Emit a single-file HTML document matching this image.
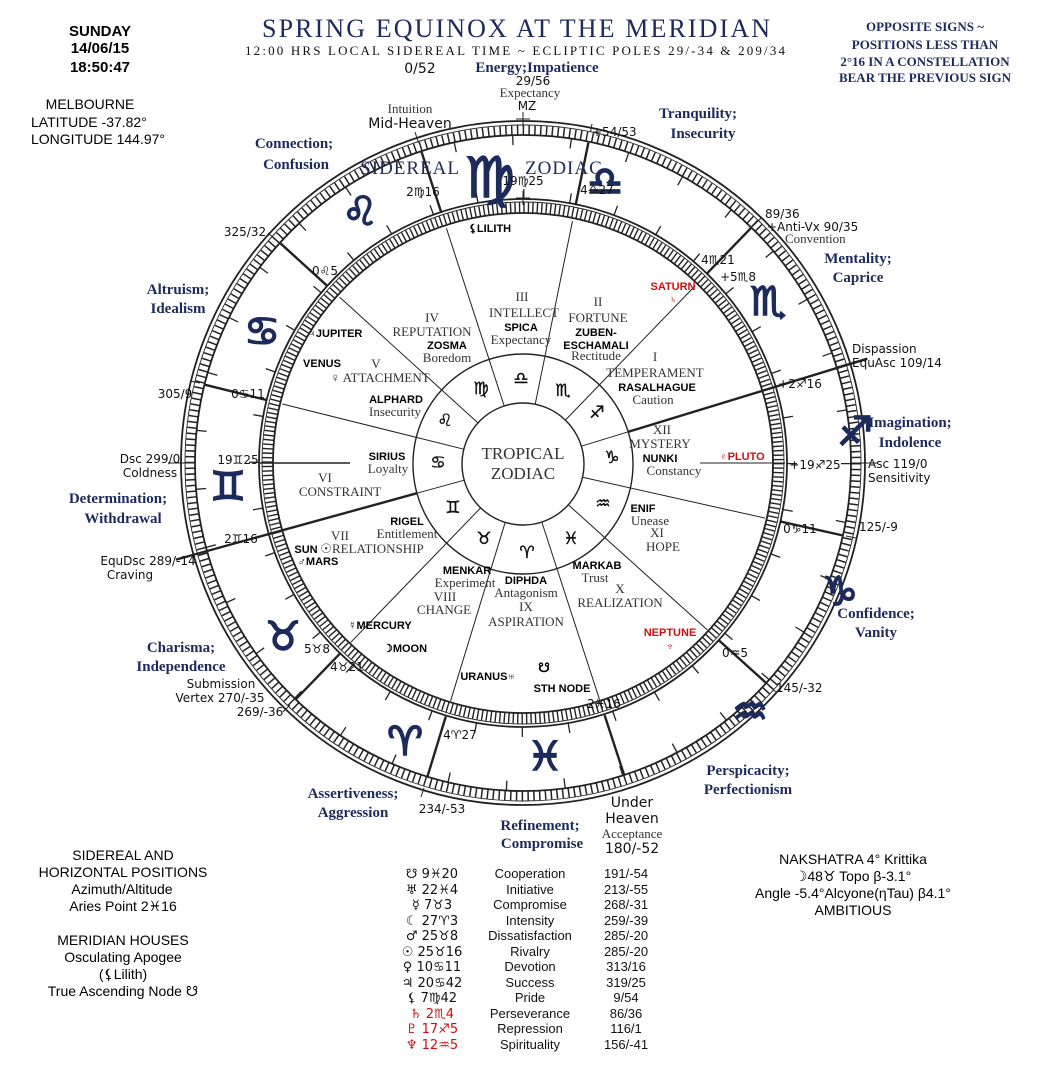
<!DOCTYPE html>
<html><head><meta charset="utf-8"><style>
html,body{margin:0;padding:0;background:#fff;}
svg{display:block;}
.s{font-family:"Liberation Sans","DejaVu Sans",sans-serif;}
.f{font-family:"Liberation Serif","DejaVu Serif",serif;}
.g{font-family:"DejaVu Sans",sans-serif;}
.nv{fill:#1c2a5c;font-family:"Liberation Serif",serif;font-weight:bold;font-size:15px;}
.b{font-family:"Liberation Sans",sans-serif;font-weight:bold;font-size:11px;fill:#000;}
.h{font-family:"Liberation Serif",serif;font-size:13px;fill:#333;}
.d{font-family:"DejaVu Sans",sans-serif;font-size:12px;fill:#111;}
.r{fill:#d01010;}
</style></head><body>
<svg width="1052" height="1066" viewBox="0 0 1052 1066" xmlns="http://www.w3.org/2000/svg">
<rect width="1052" height="1066" fill="#fff"/>
<g fill="none" stroke="#222">
<circle cx="523" cy="463" r="342" stroke-width="1.8"/>
<circle cx="523" cy="463" r="338" stroke-width="0.9"/>
<circle cx="523" cy="463" r="328" stroke-width="1.8"/>
<circle cx="523" cy="463" r="333" stroke-width="9" stroke-dasharray="1.5 4.31" stroke="#222"/>
<circle cx="523" cy="463" r="323" stroke-width="10" stroke-dasharray="1.3 56.82"/>
<circle cx="523" cy="463" r="264" stroke-width="1.8"/>
<circle cx="523" cy="463" r="261" stroke-width="0.9"/>
<circle cx="523" cy="463" r="250" stroke-width="1.8"/>
<circle cx="523" cy="463" r="255.5" stroke-width="10" stroke-dasharray="1.4 3.06" stroke="#222"/>
<circle cx="523" cy="463" r="269" stroke-width="10" stroke-dasharray="1.3 45.65"/>
<circle cx="523" cy="464" r="110" stroke-width="1.4"/>
<circle cx="523" cy="464" r="61" stroke-width="1.4"/>
<g stroke-width="1">
<line x1="504.2" y1="406" x2="446.4" y2="228.2"/>
<line x1="535.2" y1="404.2" x2="572.5" y2="221"/>
<line x1="565.4" y1="420.1" x2="695.3" y2="285.6"/>
<line x1="582.5" y1="477.3" x2="765" y2="518.1"/>
<line x1="568.3" y1="504.8" x2="707.3" y2="629.9"/>
<line x1="541.8" y1="522" x2="599.6" y2="699.8"/>
<line x1="505.2" y1="522.3" x2="450.5" y2="701.2"/>
<line x1="480.6" y1="507.9" x2="350.7" y2="642.4"/>
<line x1="463.8" y1="449.2" x2="282.4" y2="404"/>
<line x1="477.9" y1="422.9" x2="339.6" y2="297.1"/>
<line x1="581.3" y1="446.2" x2="628.2" y2="431.8"/>
<line x1="464.2" y1="480.2" x2="417" y2="493.2"/>
<line x1="260" y1="463" x2="350" y2="463" stroke-width="1.5"/>
<line x1="700" y1="463" x2="785" y2="463"/>
</g>
<g stroke-width="2.4">
<line x1="441.4" y1="212.9" x2="421.6" y2="152.1"/>
<line x1="575.6" y1="205.3" x2="588.4" y2="142.6"/>
<line x1="706.4" y1="274.1" x2="750.9" y2="228.1"/>
<line x1="780.6" y1="521.6" x2="843.1" y2="535.5"/>
<line x1="719.2" y1="640.6" x2="766.7" y2="683.5"/>
<line x1="604.6" y1="715.1" x2="624.4" y2="775.9"/>
<line x1="445.8" y1="716.5" x2="427.1" y2="777.7"/>
<line x1="339.6" y1="653.9" x2="295.1" y2="699.9"/>
<line x1="266.8" y1="400.1" x2="204.7" y2="384.7"/>
<line x1="327.7" y1="286.3" x2="280.4" y2="243.3"/>
<line x1="628.2" y1="431.8" x2="867.3" y2="358.7"/>
<line x1="417" y1="493.2" x2="175.9" y2="559.6"/>
</g>
<g stroke-width="1">
<line x1="418.5" y1="142.6" x2="415" y2="132"/><line x1="590.5" y1="132" x2="592" y2="124"/>
<line x1="753" y1="226" x2="762" y2="217"/><line x1="846" y1="536" x2="856" y2="538"/>
<line x1="769" y1="686" x2="776" y2="692"/><line x1="424" y1="788" x2="421" y2="797"/>
<line x1="290" y1="705" x2="283" y2="712"/><line x1="200" y1="383" x2="190" y2="381"/>
<line x1="276" y1="240" x2="268" y2="233"/>
<line x1="168" y1="463" x2="196" y2="463"/><line x1="850" y1="463" x2="878" y2="463"/>
<line x1="523" y1="112" x2="523" y2="126"/><line x1="516" y1="119" x2="530" y2="119"/>
<line x1="523" y1="191" x2="523" y2="205"/><line x1="516" y1="198" x2="530" y2="198"/>
</g>
</g>

<g class="g" fill="#1c2a5c" stroke="#1c2a5c" stroke-width="1.6" text-anchor="middle" font-size="40">
<text x="490" y="197" font-size="56">♍</text>
<text x="605" y="195">♎</text>
<text x="768" y="315">♏</text>
<text x="855" y="445">♐</text>
<text x="840" y="605">♑</text>
<text x="750" y="725">♒</text>
<text x="545" y="770">♓</text>
<text x="405" y="755">♈</text>
<text x="283" y="650">♉</text>
<text x="228" y="500">♊</text>
<text x="262" y="345">♋</text>
<text x="360" y="225">♌</text>
</g>
<text x="460" y="174" text-anchor="end" class="f" font-size="19" fill="#1c2a5c" letter-spacing="1">SIDEREAL</text>
<text x="525" y="174" class="f" font-size="19" fill="#1c2a5c" letter-spacing="1">ZODIAC</text>

<g class="g" fill="#111" stroke="#111" stroke-width="0.4" text-anchor="middle" font-size="17">
<text x="521" y="384">♎</text><text x="563" y="396">♏</text><text x="597" y="418">♐</text>
<text x="612" y="463">♑</text><text x="603" y="509">♒</text><text x="571" y="544">♓</text>
<text x="527" y="558">♈</text><text x="484" y="544">♉</text><text x="453" y="513">♊</text>
<text x="438" y="468">♋</text><text x="445" y="426">♌</text><text x="481" y="394">♍</text>
</g>
<text x="523" y="459" text-anchor="middle" class="f" font-size="17" fill="#333">TROPICAL</text>
<text x="523" y="479" text-anchor="middle" class="f" font-size="17" fill="#333">ZODIAC</text>

<text x="262" y="37" textLength="508" class="f" font-size="26" fill="#1c2a5c">SPRING EQUINOX AT THE MERIDIAN</text>
<text x="245" y="55" textLength="540" class="f" font-size="13" fill="#111">12:00 HRS LOCAL SIDEREAL TIME ~ ECLIPTIC POLES 29/-34 &amp; 209/34</text>

<g class="s" font-size="15" font-weight="bold" text-anchor="middle" fill="#000">
<text x="100" y="36">SUNDAY</text><text x="100" y="53">14/06/15</text><text x="100" y="72">18:50:47</text>
</g>
<g class="s" font-size="14" fill="#000">
<text x="90" y="109" text-anchor="middle">MELBOURNE</text>
<text x="31" y="127">LATITUDE    -37.82°</text>
<text x="31" y="144">LONGITUDE 144.97°</text>
</g>
<g class="f" font-size="13" fill="#1c2a5c" text-anchor="middle" font-weight="bold">
<text x="925" y="31">OPPOSITE SIGNS ~</text><text x="925" y="49">POSITIONS LESS THAN</text>
<text x="925" y="66">2°16 IN A CONSTELLATION</text><text x="925" y="82">BEAR THE PREVIOUS SIGN</text>
</g>

<g class="nv" text-anchor="middle">
<text x="537" y="72">Energy;Impatience</text>
<text x="698" y="118">Tranquility;</text><text x="703" y="138">Insecurity</text>
<text x="294" y="148">Connection;</text><text x="296" y="169">Confusion</text>
<text x="858" y="263">Mentality;</text><text x="858" y="282">Caprice</text>
<text x="178" y="294">Altruism;</text><text x="178" y="313">Idealism</text>
<text x="910" y="427">Imagination;</text><text x="910" y="447">Indolence</text>
<text x="118" y="503">Determination;</text><text x="123" y="523">Withdrawal</text>
<text x="876" y="618">Confidence;</text><text x="876" y="637">Vanity</text>
<text x="181" y="652">Charisma;</text><text x="181" y="671">Independence</text>
<text x="748" y="775">Perspicacity;</text><text x="748" y="794">Perfectionism</text>
<text x="353" y="798">Assertiveness;</text><text x="353" y="817">Aggression</text>
<text x="540" y="830">Refinement;</text><text x="542" y="848">Compromise</text>
</g>

<g class="d" font-size="12.5">
<text x="533" y="85" text-anchor="middle">29/56</text>
<text x="530" y="97" text-anchor="middle" class="h" fill="#111">Expectancy</text>
<text x="527" y="110" text-anchor="middle">MZ</text>
<text x="420" y="73" text-anchor="middle" font-size="14">0/52</text>
<text x="410" y="113" text-anchor="middle" class="h" font-size="14" fill="#111">Intuition</text>
<text x="410" y="128" text-anchor="middle" font-size="14">Mid-Heaven</text>
<text x="592" y="136">+54/53</text>
<text x="765" y="218">89/36</text>
<text x="767" y="231">+Anti-Vx 90/35</text>
<text x="785" y="243" class="h" fill="#111">Convention</text>
<text x="852" y="353">Dispassion</text>
<text x="852" y="367">EquAsc 109/14</text>
<text x="868" y="468">Asc 119/0</text>
<text x="868" y="482">Sensitivity</text>
<text x="859" y="531">125/-9</text>
<text x="776" y="692">145/-32</text>
<text x="632" y="807" text-anchor="middle" font-size="14">Under</text>
<text x="632" y="823" text-anchor="middle" font-size="14">Heaven</text>
<text x="632" y="838" text-anchor="middle" class="h" font-size="14" fill="#111">Acceptance</text>
<text x="632" y="853" text-anchor="middle" font-size="14">180/-52</text>
<text x="442" y="813" text-anchor="middle">234/-53</text>
<text x="221" y="688" text-anchor="middle">Submission</text>
<text x="220" y="702" text-anchor="middle">Vertex 270/-35</text>
<text x="260" y="716" text-anchor="middle">269/-36</text>
<text x="148" y="565" text-anchor="middle">EquDsc 289/-14</text>
<text x="130" y="579" text-anchor="middle">Craving</text>
<text x="150" y="463" text-anchor="middle">Dsc 299/0</text>
<text x="150" y="477" text-anchor="middle">Coldness</text>
<text x="175" y="398" text-anchor="middle">305/9</text>
<text x="245" y="236" text-anchor="middle">325/32</text>
</g>

<g class="d" text-anchor="middle">
<text x="423" y="196">2♍16</text><text x="523" y="185">19♍25</text><text x="597" y="194">4♎27</text>
<text x="718" y="264">4♏21</text><text x="738" y="281">+5♏8</text><text x="800" y="388">+2♐16</text>
<text x="815" y="469">+19♐25</text><text x="800" y="533">0♑11</text><text x="735" y="657">0♒5</text>
<text x="604" y="708">2♓16</text><text x="460" y="739">4♈27</text><text x="347" y="671">4♉21</text>
<text x="317" y="653">5♉8</text><text x="241" y="543">2♊16</text><text x="238" y="464">19♊25</text>
<text x="248" y="398">0♋11</text><text x="325" y="275">0♌5</text>
</g>

<g class="b" text-anchor="middle">
<text x="490" y="232">⚸LILITH</text>
<text x="673" y="290" class="b r">SATURN</text><text x="673" y="303" class="b r" font-size="13">♄</text>
<text x="335" y="337">♃JUPITER</text>
<text x="322" y="367">VENUS</text>
<text x="742" y="460" class="b r">♇PLUTO</text>
<text x="306" y="553">SUN</text>
<text x="318" y="565">♂MARS</text>
<text x="380" y="629">☿MERCURY</text>
<text x="405" y="652">☽MOON</text>
<text x="488" y="680">URANUS♅</text>
<text x="544" y="672" font-size="13">☋</text><text x="562" y="692">STH NODE</text>
<text x="670" y="636" class="b r">NEPTUNE</text><text x="670" y="650" class="b r" font-size="13">♆</text>
</g>

<g class="h" text-anchor="middle">
<text x="522" y="301">III</text><text x="524" y="317">INTELLECT</text><text x="521" y="344">Expectancy</text>
<text x="598" y="306">II</text><text x="598" y="322">FORTUNE</text><text x="596" y="360">Rectitude</text>
<text x="655" y="361">I</text><text x="655" y="377">TEMPERAMENT</text><text x="653" y="404">Caution</text>
<text x="662" y="434">XII</text><text x="660" y="448">MYSTERY</text><text x="674" y="475">Constancy</text>
<text x="650" y="525">Unease</text><text x="657" y="537">XI</text><text x="663" y="551">HOPE</text>
<text x="595" y="582">Trust</text><text x="620" y="593">X</text><text x="620" y="607">REALIZATION</text>
<text x="526" y="597">Antagonism</text><text x="526" y="611">IX</text><text x="526" y="626">ASPIRATION</text>
<text x="465" y="587">Experiment</text><text x="445" y="601">VIII</text><text x="444" y="614">CHANGE</text>
<text x="407" y="538">Entitlement</text><text x="340" y="540">VII</text><text x="372" y="553">☉RELATIONSHIP</text>
<text x="388" y="473">Loyalty</text><text x="325" y="482">VI</text><text x="340" y="496">CONSTRAINT</text>
<text x="395" y="416">Insecurity</text>
<text x="376" y="368">V</text><text x="380" y="382">♀ ATTACHMENT</text>
<text x="432" y="322">IV</text><text x="432" y="336">REPUTATION</text><text x="447" y="362">Boredom</text>
</g>
<g class="b" text-anchor="middle">
<text x="521" y="331">SPICA</text><text x="596" y="336">ZUBEN-</text><text x="596" y="349">ESCHAMALI</text>
<text x="657" y="391">RASALHAGUE</text><text x="660" y="462">NUNKI</text><text x="643" y="512">ENIF</text>
<text x="597" y="569">MARKAB</text><text x="526" y="584">DIPHDA</text><text x="467" y="574">MENKAR</text>
<text x="407" y="525">RIGEL</text><text x="387" y="460">SIRIUS</text><text x="396" y="403">ALPHARD</text>
<text x="447" y="349">ZOSMA</text>
</g>

<g class="s" font-size="14" text-anchor="middle" fill="#000">
<text x="123" y="860">SIDEREAL AND</text><text x="123" y="877">HORIZONTAL POSITIONS</text>
<text x="122" y="894">Azimuth/Altitude</text><text x="123" y="911">Aries Point  2♓16</text>
<text x="123" y="945">MERIDIAN HOUSES</text><text x="123" y="962">Osculating Apogee</text>
<text x="123" y="979">(⚸Lilith)</text><text x="123" y="996">True Ascending Node ☋</text>
</g>
<g class="s" font-size="14" text-anchor="middle" fill="#000">
<text x="853" y="864">NAKSHATRA 4° Krittika</text><text x="853" y="881">☽48♉ Topo β-3.1°</text>
<text x="853" y="898">Angle -5.4°Alcyone(ηTau) β4.1°</text><text x="853" y="915">AMBITIOUS</text>
</g>

<g class="g" font-size="13" fill="#111">
<g text-anchor="middle">
<text x="432" y="878">☋ 9♓20</text><text x="432" y="894">♅ 22♓4</text><text x="432" y="909">☿ 7♉3</text>
<text x="432" y="925">☾ 27♈3</text><text x="432" y="940">♂ 25♉8</text><text x="432" y="956">☉ 25♉16</text>
<text x="432" y="971">♀ 10♋11</text><text x="432" y="987">♃ 20♋42</text><text x="432" y="1002">⚸ 7♍42</text>
<text x="432" y="1018" fill="#d01010">♄ 2♏4</text><text x="432" y="1033" fill="#d01010">♇ 17♐5</text><text x="432" y="1049" fill="#d01010">♆ 12♒5</text>
</g>
<g text-anchor="middle" class="s" font-size="13">
<text x="530" y="878">Cooperation</text><text x="530" y="894">Initiative</text><text x="530" y="909">Compromise</text>
<text x="530" y="925">Intensity</text><text x="530" y="940">Dissatisfaction</text><text x="530" y="956">Rivalry</text>
<text x="530" y="971">Devotion</text><text x="530" y="987">Success</text><text x="530" y="1002">Pride</text>
<text x="530" y="1018">Perseverance</text><text x="530" y="1033">Repression</text><text x="530" y="1049">Spirituality</text>
</g>
<g text-anchor="middle" class="s" font-size="13">
<text x="626" y="878">191/-54</text><text x="626" y="894">213/-55</text><text x="626" y="909">268/-31</text>
<text x="626" y="925">259/-39</text><text x="626" y="940">285/-20</text><text x="626" y="956">285/-20</text>
<text x="626" y="971">313/16</text><text x="626" y="987">319/25</text><text x="626" y="1002">9/54</text>
<text x="626" y="1018">86/36</text><text x="626" y="1033">116/1</text><text x="626" y="1049">156/-41</text>
</g>
</g>
</svg>
</body></html>
